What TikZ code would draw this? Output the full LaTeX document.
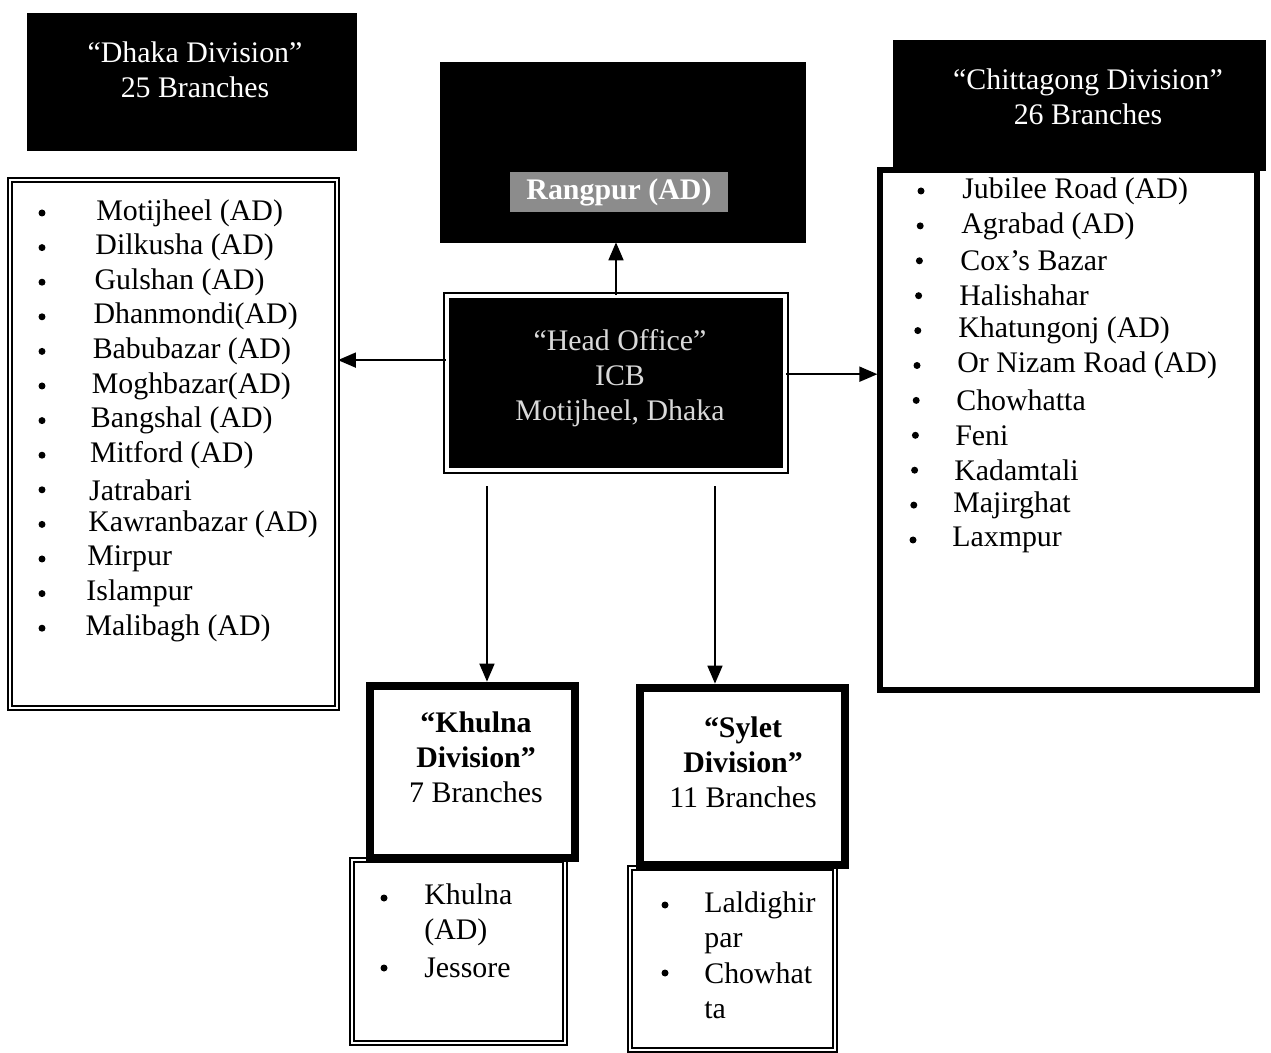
\documentclass[tikz,border=0pt]{standalone}
\usepackage{fontspec}
\setmainfont{Liberation Serif}
\usetikzlibrary{positioning, arrows.meta, calc}

\begin{document}
\begin{tikzpicture}[
  x=0.02cm, y=-0.02cm,
  every node/.style={font=\fontsize{17}{20}\selectfont, inner sep=0pt},
  darkbox/.style={draw=black, fill=black},
  listbox/.style={draw, double=white, double distance=1.6pt, line width=1.1pt, fill=white},
  headbox/.style={draw, line width=5pt, fill=white},
  bulletmark/.style={circle, fill=black, minimum size=1.4mm},
  branch/.style={anchor=west, align=left},
  arr/.style={-{Triangle[length=0.36cm,width=0.3cm]}, line width=1pt}
]
\useasboundingbox (0,0) rectangle (1271,1053);

% Dhaka division
\node[darkbox, minimum width=6.58cm, minimum height=2.74cm] (dhakahead) at (191.5,81.5) {};
\node[text=white, align=center] (dhakatitle) at (195,70) {“Dhaka Division”\\25 Branches};
\node[listbox, minimum width=6.54cm, minimum height=10.56cm] (dhakalist) at (173.5,444) {};
\foreach \place [count=\i] in {Motijheel (AD), Dilkusha (AD), Gulshan (AD), Dhanmondi(AD),
    Babubazar (AD), Moghbazar(AD), Bangshal (AD), Mitford (AD), Jatrabari,
    Kawranbazar (AD), Mirpur, Islampur, Malibagh (AD)} {
  \node[bulletmark] (db\i) at (42,{213+34.6*(\i-1)}) {};
  \node[branch] (d\i) at ({96-0.9*(\i-1)},{213+34.6*(\i-1)}) {\place};
}

% Rangpur
\node[darkbox, minimum width=7.3cm, minimum height=3.6cm] (rangpur) at (622.5,152) {};
\node[fill=black!45, text=white, font=\fontsize{17}{20}\selectfont\bfseries,
  minimum width=4.36cm, minimum height=0.8cm] (rangpurad) at (619,192) {Rangpur (AD)};

% Head office
\node[fill=black, draw=black, double=white, double distance=2.5pt, line width=1.2pt,
  minimum width=6.76cm, minimum height=3.48cm] (head) at (616,383) {};
\node[text=white!85!black, align=center] (headtext) at (620,378) {“Head Office”\\ICB\\Motijheel, Dhaka};

% Chittagong division
\node[draw, line width=3pt, fill=white, minimum width=7.54cm, minimum height=10.4cm] (chitlist) at (1068.5,430) {};
\node[darkbox, minimum width=7.44cm, minimum height=2.6cm] (chithead) at (1079,105) {};
\node[text=white, align=center] (chittitle) at (1088,97) {“Chittagong Division”\\26 Branches};
\foreach \place [count=\i] in {Jubilee Road (AD), Agrabad (AD), Cox’s Bazar, Halishahar,
    Khatungonj (AD), Or Nizam Road (AD), Chowhatta, Feni, Kadamtali, Majirghat, Laxmpur} {
  \node[bulletmark] (cb\i) at ({921-0.8*(\i-1)},{191+34.9*(\i-1)}) {};
  \node[branch] (c\i) at ({962-1*(\i-1)},{191+34.9*(\i-1)}) {\place};
}

% Khulna division
\node[listbox, minimum width=4.26cm, minimum height=3.66cm] (khulnalist) at (458.5,951.5) {};
\node[headbox, minimum width=4.1cm, minimum height=3.44cm] (khulnahead) at (472.5,772) {};
\node[align=center] (khulnatitle) at (476,757) {\textbf{“Khulna}\\\textbf{Division”}\\7 Branches};
\node[bulletmark] (kb1) at (384,898) {};
\node[branch] (k1) at (424,915) {Khulna\\(AD)};
\node[bulletmark] (kb2) at (384,968) {};
\node[branch] (k2) at (424,968) {Jessore};

% Sylet division
\node[listbox, minimum width=4.1cm, minimum height=3.64cm] (syletlist) at (732.5,959) {};
\node[headbox, minimum width=4.1cm, minimum height=3.54cm] (sylethead) at (742.5,776.5) {};
\node[align=center] (sylettitle) at (743,762) {\textbf{“Sylet}\\\textbf{Division”}\\11 Branches};
\node[bulletmark] (sb1) at (665,905) {};
\node[branch] (s1) at (704,922.5) {Laldighir\\par};
\node[bulletmark] (sb2) at (665,973) {};
\node[branch] (s2) at (704,990.5) {Chowhat\\ta};

% Connectors from head office
\coordinate (hw) at ($(head.north west)!0.37!(head.south west)$);
\coordinate (he) at ($(head.north east)!0.45!(head.south east)$);
\coordinate (hk) at ($(head.south west)+(41,15)$);
\coordinate (hs) at ($(head.south west)+(269,15)$);
\draw[arr] (head.north) -- (head.north |- rangpur.south);
\draw[arr] (hw) -- (hw -| dhakalist.east);
\draw[arr] (he) -- (he -| chitlist.west);
\draw[arr] (hk) -- (hk |- khulnahead.north);
\draw[arr] (hs) -- (hs |- sylethead.north);

\end{tikzpicture}
\end{document}
